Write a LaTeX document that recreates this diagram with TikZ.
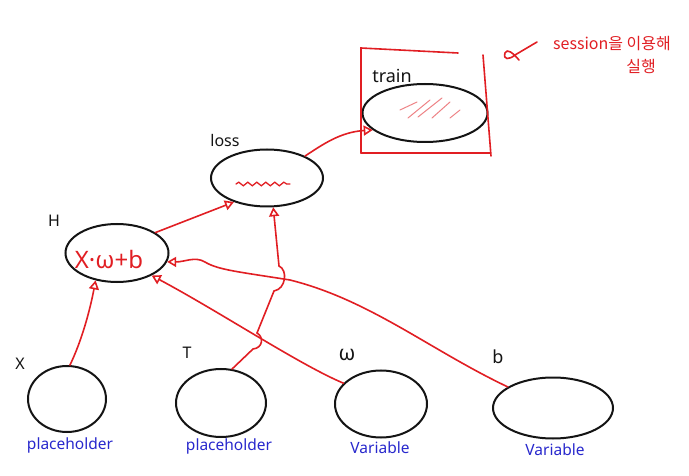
\documentclass[tikz,border=0pt]{standalone}
\usepackage{fontspec}
\setmainfont{Noto Sans}
\newfontfamily\krfont{Noto Sans CJK KR}
\usetikzlibrary{arrows.meta,shapes.geometric,decorations.pathmorphing}
\definecolor{pen}{RGB}{225,30,35}
\definecolor{ink}{RGB}{20,20,20}
\definecolor{note}{RGB}{40,40,205}
\begin{document}
\begin{tikzpicture}[x=1pt,y=-1pt,
  blob/.style={ellipse,draw=ink,line width=2pt,inner sep=0pt},
  lbl/.style={font=\fontsize{16}{16}\selectfont,text=ink,inner sep=0pt},
  kind/.style={font=\fontsize{15.5}{15.5}\selectfont,text=note,inner sep=0pt},
  memo/.style={font=\krfont\fontsize{16}{16}\selectfont,text=pen,inner sep=0pt},
  link/.style={draw=pen,line width=1.6pt,line cap=round},
  conn/.style={link,-{Triangle[open,length=9pt,width=10pt]}}]
\useasboundingbox (0,0) rectangle (689,476);
\fill[white] (0,0) rectangle (689,476);

% graph nodes
\node[blob,minimum width=78pt,minimum height=66pt]  (X)     at (67,399)  {};
\node[blob,minimum width=90pt,minimum height=68pt]  (T)     at (221,403) {};
\node[blob,minimum width=92pt,minimum height=67pt]  (W)     at (381,404) {};
\node[blob,minimum width=120pt,minimum height=61pt] (b)     at (553,408) {};
\node[blob,minimum width=103pt,minimum height=58pt] (H)     at (117,253) {};
\node[blob,minimum width=112pt,minimum height=57pt] (loss)  at (267,178) {};
\node[blob,minimum width=125pt,minimum height=58pt] (train) at (425,113) {};

% names above the nodes
\node[lbl] (Xname)     at (20,364)  {X};
\node[lbl] (Tname)     at (187,353) {T};
\node[lbl,font=\fontsize{21}{21}\selectfont] (Wname) at (347,355) {ω};
\node[lbl,font=\fontsize{18}{18}\selectfont] (bname) at (498,357) {b};
\node[lbl] (Hname)     at (54,221)  {H};
\node[lbl] (lossname)  at (225,141) {loss};
\node[lbl,font=\fontsize{18}{18}\selectfont] (trainname) at (392,76) {train};

% kinds below the inputs
\node[kind] (Xkind) at (70,445)  {placeholder};
\node[kind] (Tkind) at (229,446) {placeholder};
\node[kind] (Wkind) at (380,448) {Variable};
\node[kind] (bkind) at (555,450) {Variable};

% contents of the operation nodes
\node[text=pen,inner sep=0pt,font=\fontsize{24}{24}\selectfont] (Hexpr) at (109,260) {X·ω+b};
\draw[link,line width=1.3pt,decorate,decoration={snake,amplitude=1.8pt,segment length=9pt}]
  (236,184) -- (290,184);
\begin{scope}[pen!55,line width=1pt,line cap=round]
  \draw (400,110) -- (417,102);
  \draw (408,118) -- (430,100);
  \draw (418,117) -- (442,98);
  \draw (432,118) -- (450,102);
  \draw (450,118) -- (460,110);
\end{scope}

% frame around train
\draw[link] (361,153) -- (361,48) -- (458,53);
\draw[link] (483,55) -- (491,156);
\draw[link] (361,153) -- (490,153);

% note
\draw[link] (537,42) -- (515,55) .. controls (509,60) and (503,60) .. (505,53)
  .. controls (507,48) and (513,53) .. (519,60);
\node[memo] (memo1) at (612,44) {session을 이용해};
\node[memo] (memo2) at (641,66) {실행};

% data flow
\draw[conn] (X.85) .. controls (82,340) and (90,310) .. (H.232);
\draw[conn] (W.151) .. controls (300,365) and (220,312) .. (H.-33);
\draw[conn] (b.155) .. controls (430,350) and (370,300) .. (290,280)
  .. controls (240,272) and (218,270) .. (205,262)
  .. controls (195,256) and (185,262) .. (H.-10);
\draw[conn] (T.72) -- (253,349) .. controls (263,348) and (264,337) .. (257,333)
  -- (274,291) .. controls (286,289) and (288,270) .. (279,266) -- (loss.-78);
\draw[conn] (H.28) -- (loss.216);
\draw[conn] (loss.30) .. controls (322,145) and (340,132) .. (train.198);
\end{tikzpicture}
\end{document}
